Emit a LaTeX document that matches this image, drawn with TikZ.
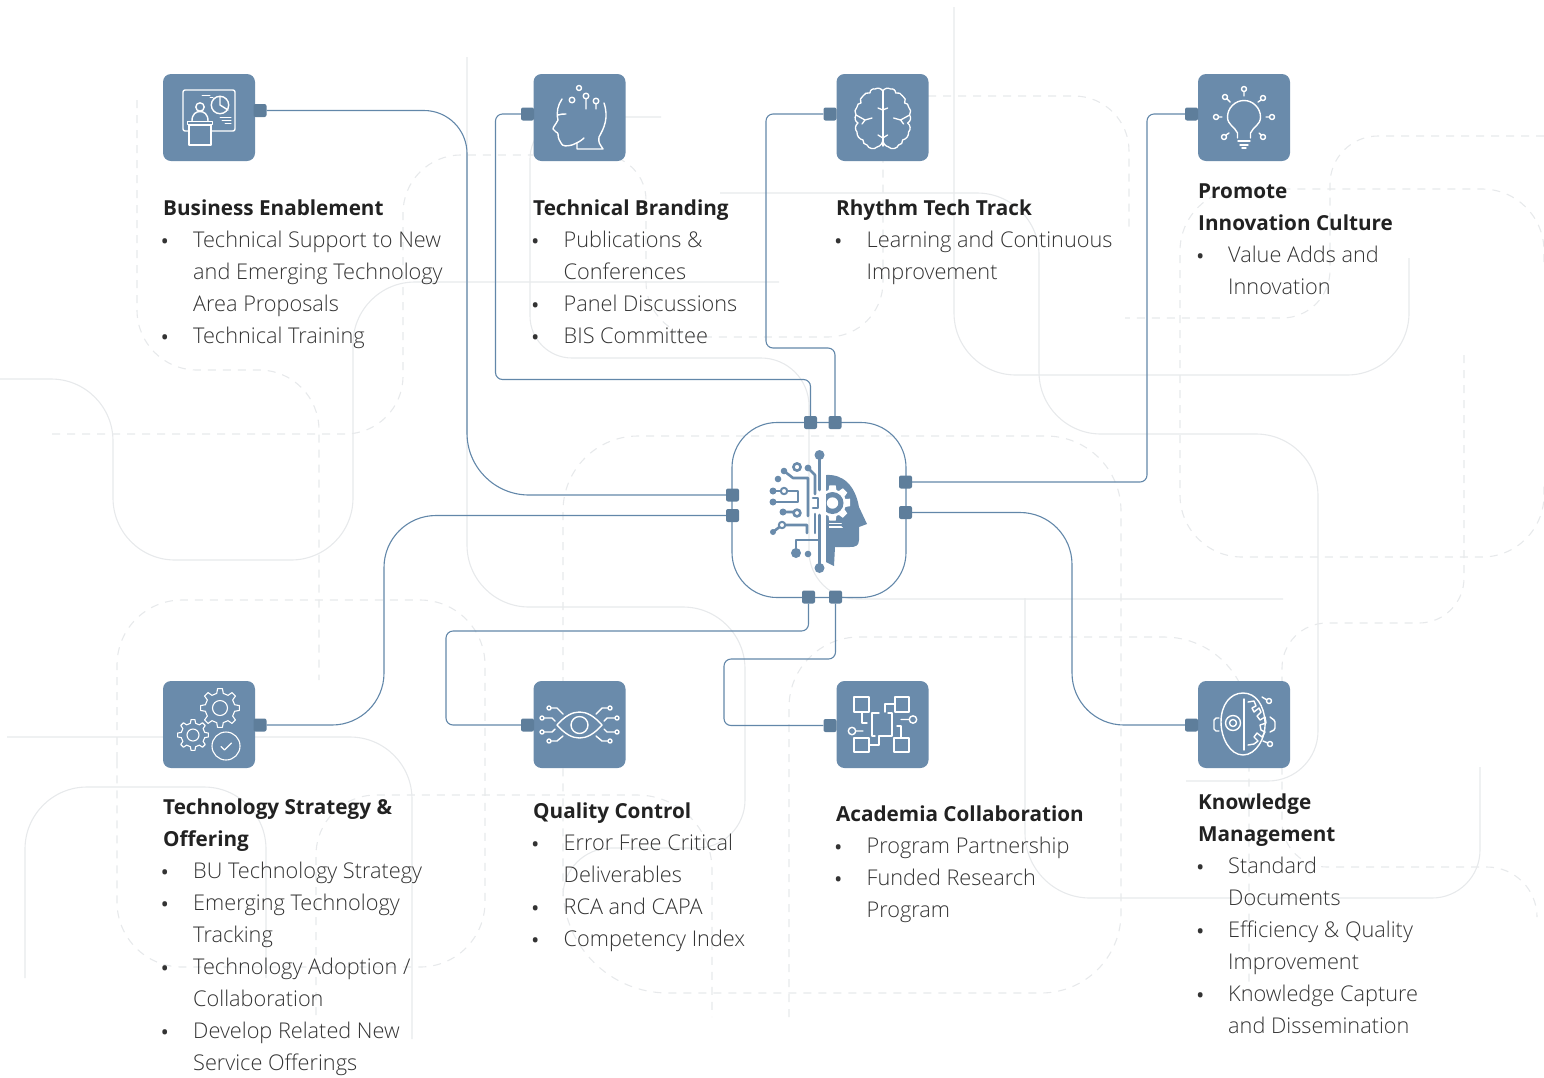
\documentclass[tikz,border=0pt]{standalone}
\usepackage{fontspec}
\setmainfont{Open Sans Light}
\newfontfamily\ttlfont{Open Sans Bold}
\newcommand\ml[1]{\begin{tabular}[t]{@{}l@{}}#1\end{tabular}}
\definecolor{boxblue}{HTML}{6A8BAB}
\definecolor{portblue}{HTML}{5E7E9B}
\definecolor{linkblue}{HTML}{6287A9}
\definecolor{bgline}{HTML}{E7E9EB}
\definecolor{bodytxt}{HTML}{333333}
\definecolor{ttltxt}{HTML}{222222}
\tikzset{
 bgs/.style={draw=bgline,line width=1.1pt},
 bgd/.style={draw=bgline,line width=1.1pt,dash pattern=on 8pt off 7pt},
 iconbox/.style={rectangle,fill=boxblue,minimum width=92pt,minimum height=87pt,rounded corners=8pt,inner sep=0pt},
 portn/.style={rectangle,fill=portblue,minimum size=13pt,rounded corners=2pt,inner sep=0pt},
 conn/.style={draw=linkblue,line width=1.1pt},
 ic/.style={draw=white,line width=1.4pt,line cap=round,line join=round},
 ttl/.style={anchor=north west,inner sep=0pt,yshift=14.4pt,text=ttltxt,font=\ttlfont\fontsize{20.7}{32}\selectfont,execute at begin node=\strut},
 bod/.style={anchor=north west,inner sep=0pt,yshift=14.4pt,text=bodytxt,font=\fontsize{21.7}{32}\selectfont,execute at begin node=\strut},
 bul/.style={anchor=north west,inner sep=0pt,yshift=14.4pt,text=bodytxt,font=\ttlfont\fontsize{17}{32}\selectfont,execute at begin node=\strut},
 cf/.style={fill=boxblue,draw=none},
 cl/.style={draw=boxblue,line width=2.6pt,line cap=round,line join=round}
}
\newcommand\mygear[6]{% x y outer root teeth hole
 \begin{scope}[shift={(#1,#2)}]
 \pgfmathsetmacro\stp{360/#5}
 \draw[ic,line width=1.1pt] (-.28*\stp:#4) \foreach \a in {1,...,#5}{ -- ({\a*\stp-\stp-.16*\stp}:#3) -- ({\a*\stp-\stp+.16*\stp}:#3) -- ({\a*\stp-\stp+.28*\stp}:#4) -- ({\a*\stp-.28*\stp}:#4)} -- cycle;
 \draw[ic,line width=1.1pt] (0,0) circle[radius=#6];
 \end{scope}}
\begin{document}
\begin{tikzpicture}[x=1pt,y=-1pt]
\useasboundingbox (0,0) rectangle (1544,1077);
% background decoration: solid
\draw[bgs,rounded corners=62pt] (467,57) -- (467,607) -- (745,607) [rounded corners=48pt] -- (745,848) -- (563,848) -- (563,895);
\draw[bgs,rounded corners=62pt] (954,7) -- (954,375) -- (1409,375) -- (1409,258);
\draw[bgs,rounded corners=62pt] (720,193) -- (1039,193) -- (1039,434) -- (1318,434) [rounded corners=50pt] -- (1318,781) -- (1186,781);
\draw[bgs,rounded corners=65pt] (1025,598) -- (1025,898) [rounded corners=48pt] -- (1480,898) -- (1480,767);
\draw[bgs,rounded corners=42pt] (661,117) -- (530,117) -- (530,358) [rounded corners=48pt] -- (809,358) -- (809,599) -- (1283,599);
\draw[bgs,rounded corners=62pt] (779,282) -- (353,282) -- (353,560) -- (113,560) -- (113,379) -- (0,379);
\draw[bgs,rounded corners=62pt] (7,737) -- (412,737) -- (412,1039);
\draw[bgs,rounded corners=62pt] (25,978) -- (25,787) -- (266,787) -- (266,978);
% background decoration: dashed
\draw[bgd,rounded corners=60pt] (137,100) -- (137,370) -- (319,370) -- (319,680);
\draw[bgd,rounded corners=58pt] (52,434) -- (403,434) -- (403,155) [rounded corners=45pt] -- (646,155) [rounded corners=55pt] -- (646,337) -- (883,337) -- (883,160);
\draw[bgd,rounded corners=55pt] (928,96) -- (1129,96) -- (1129,230);
\draw[bgd,rounded corners=48pt] (1544,136) -- (1330,136) -- (1330,318) -- (1125,318);
\draw[bgd,rounded corners=62pt] (1544,262) -- (1544,189) -- (1180,189) -- (1180,557) -- (1544,557) -- (1544,480);
\draw[bgd,rounded corners=45pt] (1464,355) -- (1464,623) -- (1282,623) -- (1282,867) [rounded corners=50pt] -- (1537,867) -- (1537,915);
\draw[bgd,rounded corners=75pt] (563,700) -- (563,436) -- (1121,436) [rounded corners=80pt] -- (1121,993) [rounded corners=105pt] -- (563,993) -- (563,700);
\draw[bgd,rounded corners=65pt] (117,760) -- (117,600) -- (485,600) -- (485,967) -- (117,967) -- (117,760);
\draw[bgd,rounded corners=60pt] (316,1015) -- (316,795) [rounded corners=75pt] -- (712,795) -- (712,1017);
\draw[bgd,rounded corners=70pt] (789,1017) -- (789,637) [rounded corners=85pt] -- (1249,637) -- (1249,1000);
% central box and ports
\node[rectangle,draw=linkblue,line width=1.1pt,minimum width=174pt,minimum height=175pt,rounded corners=45pt,inner sep=0pt] (centre) at (819,510) {};
\node[portn] (ct1) at (810.5,422.5) {};
\node[portn] (ct2) at (835,422.5) {};
\node[portn] (cr1) at (905.5,482) {};
\node[portn] (cr2) at (905.5,512.5) {};
\node[portn] (cl1) at (732.5,495) {};
\node[portn] (cl2) at (732.5,515.5) {};
\node[portn] (cb1) at (808.5,597) {};
\node[portn] (cb2) at (835.5,597) {};
% icon boxes
\node[iconbox] (b1) at (209,117.5) {};
\node[iconbox] (b2) at (579.5,117.5) {};
\node[iconbox] (b3) at (882.5,117.5) {};
\node[iconbox] (b4) at (1244,117.5) {};
\node[iconbox] (b5) at (209,724.5) {};
\node[iconbox] (b6) at (579.5,724.5) {};
\node[iconbox] (b7) at (882.5,724.5) {};
\node[iconbox] (b8) at (1244,724.5) {};
\node[portn] (p1) at (260,110.5) {};
\node[portn] (p2) at (527.5,114) {};
\node[portn] (p3) at (830,114) {};
\node[portn] (p4) at (1191.5,114) {};
\node[portn] (p5) at (260,725) {};
\node[portn] (p6) at (527.5,725) {};
\node[portn] (p7) at (830,725.5) {};
\node[portn] (p8) at (1191.5,725) {};
% connectors
\draw[conn,rounded corners=43pt] (p1.east) -- (467,110.5) [rounded corners=62pt] -- (467,495) -- (cl1.west);
\draw[conn,rounded corners=7pt] (p2.west) -- (495.5,114) -- (495.5,379.5) -- (810.5,379.5) -- (ct1.north);
\draw[conn,rounded corners=7pt] (p3.west) -- (766,114) -- (766,348) -- (835,348) -- (ct2.north);
\draw[conn,rounded corners=7pt] (p4.west) -- (1147,114) -- (1147,482) -- (cr1.east);
\draw[conn,rounded corners=52pt] (cr2.east) -- (1072,512.5) -- (1072,725) -- (p8.west);
\draw[conn,rounded corners=52pt] (cl2.west) -- (384,515.5) -- (384,725) -- (p5.east);
\draw[conn,rounded corners=7pt] (cb1.south) -- (808.5,631) -- (446,631) -- (446,725) -- (p6.west);
\draw[conn,rounded corners=7pt] (cb2.south) -- (835.5,659) -- (724,659) -- (724,725.5) -- (p7.west);
% icon 1: business
\draw[ic,rounded corners=2pt] (189,131) -- (183,131) -- (183,90) -- (235,90) -- (235,131) -- (211,131);
\draw[ic] (220,105) circle[radius=8.7] (220,96.3) -- (220,105) -- (228,110);
\draw[ic] (200,107) circle[radius=4.2];
\draw[ic] (192,121) .. controls (192,114) and (196,111.5) .. (200,111.5) .. controls (204,111.5) and (208,114) .. (208,121);
\draw[ic] (187.5,121.5) rectangle (212.5,124.5);
\draw[ic] (189,125) rectangle (211,145);
\draw[ic,line width=1pt] (202,95) -- (210,95) (210,97) -- (213,97) (220,117.5) -- (231,117.5) (222,120.5) -- (231,120.5) (225,123.5) -- (231,123.5);
% icon 2: head
\draw[ic] (562,99) .. controls (558,105) and (556,112) .. (558,120) .. controls (556,124) and (553,127) .. (553,129) .. controls (554,132) and (558,132) .. (558,134) .. controls (558,139) and (560,141) .. (561,143) .. controls (562,147) and (568,146) .. (572,145) .. controls (577,143) and (581,141) .. (584,138);
\draw[ic] (577,143) -- (577,149) -- (603,149) .. controls (600,144) and (598,143) .. (599,137) .. controls (604,128) and (609,118) .. (604,103);
\draw[ic] (558,115) .. controls (561,114) and (563,114) .. (566,114);
\draw[ic] (579,88) circle[radius=2.5];
\draw[ic] (572,100) circle[radius=2.8];
\draw[ic] (586,96) circle[radius=2.8] (586,98.8) -- (586,109);
\draw[ic] (596,101) circle[radius=2.8] (596,103.8) -- (596,109);
% icon 3: brain
\draw[ic] (882.8,90) -- (882.8,146);
\foreach \s/\o in {1/0,-1/1765.6}{
 \begin{scope}[xscale=\s,xshift=\o*\s]
 \draw[ic,line width=1.3pt] (882.8,91) to[bend right=45] (875,89) to[bend right=60] (870,93) to[bend right=40] (863,96) to[bend right=50] (861,103) to[bend right=50] (857,107) to[bend right=40] (856,115) to[bend right=50] (858,123) to[bend right=50] (857,132) to[bend right=40] (863,140) to[bend right=50] (867,145) to[bend right=60] (877,147) to[bend right=40] (882.8,139);
 \draw[ic,line width=1.3pt] (856,115) -- (865,120) -- (872,118) (865,120) -- (862,124) (878,108) -- (882.8,110) (878,135) -- (882.8,138);
 \end{scope}}
% icon 4: bulb
\draw[ic] (1237.5,138) -- (1237.5,133) .. controls (1235,127) and (1227.5,125) .. (1227.5,117) .. controls (1227.5,108) and (1235,100.5) .. (1244,100.5) .. controls (1253,100.5) and (1260.5,108) .. (1260.5,117) .. controls (1260.5,125) and (1253,127) .. (1250.5,133) -- (1250.5,138);
\draw[ic] (1238,141) -- (1250,141) (1240,145) -- (1248,145) (1242,148) -- (1246,148);
\draw[ic] (1244,89) circle[radius=2.5] (1244,91.5) -- (1244,96);
\draw[ic] (1225,97) circle[radius=2.5] (1227,99) -- (1230,102);
\draw[ic] (1263,98) circle[radius=2.5] (1261,100) -- (1258,102);
\draw[ic] (1216,117) circle[radius=2.5] (1218.5,117) -- (1222,117);
\draw[ic] (1272,117) circle[radius=2.5] (1269.5,117) -- (1266,117);
\draw[ic] (1224,137) circle[radius=2.5] (1226,135) -- (1229,133);
\draw[ic] (1263,137) circle[radius=2.5] (1261,135) -- (1259,133);
% icon 5: gears
\mygear{220}{708}{19.5}{15}{8}{7.5}
\mygear{193}{735}{15.5}{12}{8}{6}
\draw[ic,line width=1.1pt] (226,746) circle[radius=14] (221,746.5) -- (224.5,750) -- (231.5,743);
% icon 6: eye
\draw[ic] (557,725) .. controls (565,716) and (572,712) .. (579.5,712) .. controls (587,712) and (594,716) .. (602,725) .. controls (594,734) and (587,738) .. (579.5,738) .. controls (572,738) and (565,734) .. (557,725) -- cycle;
\draw[ic] (579.5,725) circle[radius=8.5];
\foreach \s/\o in {1/0,-1/1159}{
 \begin{scope}[xscale=\s,xshift=\o*\s]
 \draw[ic] (549,708) circle[radius=2] (551,708) -- (557,708) -- (563,714);
 \draw[ic] (542,718) circle[radius=2] (544,718) -- (552,718) -- (555,721);
 \draw[ic] (542,732) circle[radius=2] (544,732) -- (552,732) -- (555,729);
 \draw[ic] (549,741) circle[radius=2] (551,741) -- (557,741) -- (563,736);
 \end{scope}}
% icon 7: academia
\draw[ic] (854,697) rectangle (869,712) (895,697) rectangle (909,712) (854,738) rectangle (869,752) (894,738) rectangle (909,752);
\draw[ic] (879,713) -- (872,713) -- (872,736) -- (875,736);
\draw[ic] (888,713) -- (892,713) -- (892,736) -- (879,736) -- (879,745) -- (869,745);
\draw[ic] (862,712) -- (862,723) -- (867,723) (895,704) -- (885,704) -- (885,712) (901,738) -- (901,726) -- (897,726);
\draw[ic] (913,719.5) circle[radius=3.7] (909,719.5) -- (901,719.5);
\draw[ic] (852,731) circle[radius=3.7] (856,731) -- (863,731);
% icon 8: knowledge
\draw[ic] (1243,693) .. controls (1256,693) and (1264,705) .. (1265,722) .. controls (1266,738) and (1256,755) .. (1243,755) .. controls (1230,755) and (1221,738) .. (1221,722) .. controls (1221,705) and (1230,693) .. (1243,693) -- cycle;
\draw[ic] (1244,699) -- (1244,750);
\draw[ic] (1233,723) circle[radius=7.5] (1233,723) circle[radius=3.5];
\draw[ic] (1219,718) -- (1216,718) -- (1214,720) -- (1214,729) -- (1216,731) -- (1219,731);
\draw[ic] (1270,717) -- (1274,720) -- (1275,722) -- (1275,728) -- (1274,730) -- (1270,732);
\draw[ic] (1248,702) -- (1254,701) -- (1256,706) -- (1252,708) -- (1254,712) -- (1259,708) -- (1261,712) -- (1257,716) -- (1260,720) -- (1265,717) -- (1266,723) -- (1260,725) -- (1261,730) -- (1265,732) -- (1262,737) -- (1257,733) -- (1254,737) -- (1258,741) -- (1254,744) -- (1248,745);
\draw[ic] (1269,701) circle[radius=2.5] (1267,700) -- (1262,697);
\draw[ic] (1270,744) circle[radius=2.5] (1268,743) -- (1263,741);
% central icon
\path[cf] (826,475) .. controls (843,474) and (855,485) .. (859,507) -- (867,524) -- (859,527) -- (859,540) .. controls (859,546) and (855,547) .. (850,547) -- (835,547) -- (834,566) -- (826,562) -- cycle;
\begin{scope}[shift={(832.5,503)}]
 \fill[white] (-14:18) \foreach \a in {0,45,...,315}{ -- ({\a-10}:18) -- ({\a+10}:18) -- ({\a+17}:13.5) -- ({\a+28}:13.5)} -- cycle;
 \fill[boxblue] (0,0) circle[radius=11];
 \fill[white] (0,0) circle[radius=5.7];
\end{scope}
\fill[white] (817,480) rectangle (825.5,530);
\fill[boxblue] (819.5,455) circle[radius=5] (819.5,568) circle[radius=5];
\draw[cl] (819.5,455) -- (819.5,490) (819.5,515) -- (819.5,568);
\draw[cl] (808,468) -- (815,475) -- (815,494);
\fill[boxblue] (808,468) circle[radius=3.4] (784,471) circle[radius=3.3] (778,479) circle[radius=3.3] (773,491) circle[radius=3.5] (773,502) circle[radius=3.5] (783,512) circle[radius=3.5] (773,532) circle[radius=3] (796,553) circle[radius=5] (808,554) circle[radius=3.3];
\draw[cl] (797,467) circle[radius=3.6];
\draw[cl] (784,471) -- (793,478) -- (808,478) -- (808,516);
\draw[cl] (773,491) -- (798,491) -- (798,502) -- (773,502);
\fill[white] (784,491) circle[radius=2.4];
\draw[cl,line width=2pt] (784,491) circle[radius=3.2];
\draw[cl] (783,512) -- (794,512) (797,513) circle[radius=3.4];
\draw[cl] (773,532) -- (782,525) -- (807,525) -- (807,533);
\fill[white] (782,525) circle[radius=2.4];
\draw[cl,line width=2pt] (782,525) circle[radius=3.2];
\draw[cl] (796,553) -- (796,540) -- (819,540);
\draw[cl] (813,498) -- (818,498) -- (818,508) -- (813,508);
\draw[cl] (815,514) -- (815,533);
\draw[white,line width=5pt] (829,525) -- (843,525);
\draw[cl] (829,525) -- (844,525);
\fill[boxblue] (844,525) circle[radius=2.8];
% Business Enablement
\node[ttl] (t1) at (163,207) {Business Enablement};
\node[bul] (t1a) at (161.5,239) {•};
\node[bod] (t1b) at (193,239) {\ml{Technical Support to New\\and Emerging Technology\\Area Proposals}};
\node[bul] (t1c) at (161.5,335) {•};
\node[bod] (t1d) at (193,335) {Technical Training};
% Technical Branding
\node[ttl] (t2) at (533,207) {Technical Branding};
\node[bul] (t2a) at (532,239) {•};
\node[bod] (t2b) at (563.5,239) {\ml{Publications \&\\Conferences}};
\node[bul] (t2c) at (532,303) {•};
\node[bod] (t2d) at (563.5,303) {Panel Discussions};
\node[bul] (t2e) at (532,335) {•};
\node[bod] (t2f) at (563.5,335) {BIS Committee};
% Rhythm
\node[ttl] (t3) at (836,207) {Rhythm Tech Track};
\node[bul] (t3a) at (835,239) {•};
\node[bod] (t3b) at (866.5,239) {\ml{Learning and Continuous\\Improvement}};
% Promote
\node[ttl] (t4) at (1198,190) {\ml{Promote\\Innovation Culture}};
\node[bul] (t4a) at (1197,254) {•};
\node[bod] (t4b) at (1228,254) {\ml{Value Adds and\\Innovation}};
% Strategy
\node[ttl] (t5) at (163,806) {\ml{Technology Strategy \&\\Offering}};
\node[bul] (t5a) at (161.5,870) {•};
\node[bod] (t5b) at (193,870) {BU Technology Strategy};
\node[bul] (t5c) at (161.5,902) {•};
\node[bod] (t5d) at (193,902) {\ml{Emerging Technology\\Tracking}};
\node[bul] (t5e) at (161.5,966) {•};
\node[bod] (t5f) at (193,966) {\ml{Technology Adoption /\\Collaboration}};
\node[bul] (t5g) at (161.5,1030) {•};
\node[bod] (t5h) at (193,1030) {\ml{Develop Related New\\Service Offerings}};
% Quality
\node[ttl] (t6) at (533,810) {Quality Control};
\node[bul] (t6a) at (532,842) {•};
\node[bod] (t6b) at (563.5,842) {\ml{Error Free Critical\\Deliverables}};
\node[bul] (t6c) at (532,906) {•};
\node[bod] (t6d) at (563.5,906) {RCA and CAPA};
\node[bul] (t6e) at (532,938) {•};
\node[bod] (t6f) at (563.5,938) {Competency Index};
% Academia
\node[ttl] (t7) at (836,813) {Academia Collaboration};
\node[bul] (t7a) at (835,845) {•};
\node[bod] (t7b) at (866.5,845) {Program Partnership};
\node[bul] (t7c) at (835,877) {•};
\node[bod] (t7d) at (866.5,877) {\ml{Funded Research\\Program}};
% Knowledge
\node[ttl] (t8) at (1198,801) {\ml{Knowledge\\Management}};
\node[bul] (t8a) at (1197,865) {•};
\node[bod] (t8b) at (1228,865) {\ml{Standard\\Documents}};
\node[bul] (t8c) at (1197,929) {•};
\node[bod] (t8d) at (1228,929) {\ml{Efficiency \& Quality\\Improvement}};
\node[bul] (t8e) at (1197,993) {•};
\node[bod] (t8f) at (1228,993) {\ml{Knowledge Capture\\and Dissemination}};
\end{tikzpicture}
\end{document}
